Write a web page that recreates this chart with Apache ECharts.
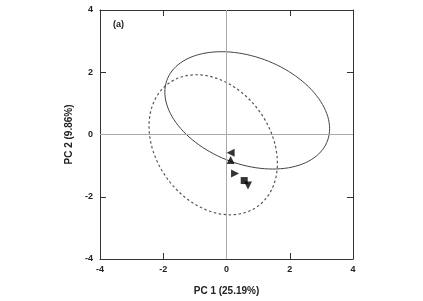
<!DOCTYPE html>
<html>
<head>
<meta charset="utf-8">
<script src="https://cdn.jsdelivr.net/npm/echarts@6/dist/echarts.min.js"></script>
<style>
  html, body { margin: 0; padding: 0; background: #fff; }
  #main { width: 423px; height: 301px; }
</style>
</head>
<body>
<div id="main"></div>
<script>
// axis ticks
const tickValues = [-4, -2, 0, 2, 4];

// sample scores (PC1, PC2), one point per group
const groupNames = ["g1", "g2", "g3", "g4", "g5"];
const groupX = [0.13, 0.13, 0.27, 0.56, 0.68];
const groupY = [-0.59, -0.82, -1.25, -1.48, -1.64];

// confidence ellipses: centre, half extents along x / y, covariance term
const ellipseNames = ["solid", "dashed"];
const ellipseCx = [0.655, -0.42];
const ellipseCy = [0.775, -0.33];
const ellipseHalfW = [2.605, 2.03];
const ellipseHalfH = [1.885, 2.25];
const ellipseCov = [-1.53, -1.21];

// marker look per group
const groupSymbol = ["triangle", "triangle", "triangle", "rect", "triangle"];
const groupRotate = [90, 0, -90, 0, 180];

const font = "Liberation Sans, Arial, sans-serif";
const axisColor = "#333";

var chart = echarts.init(document.getElementById("main"));

function ellipseItem(params, api) {
  var i = params.dataIndex;
  var cx = ellipseCx[i], cy = ellipseCy[i];
  var sx = ellipseHalfW[i];
  var sxx = sx * sx, syy = ellipseHalfH[i] * ellipseHalfH[i];
  var l21 = ellipseCov[i] / sx;
  var l22 = Math.sqrt(syy - l21 * l21);
  var pts = [];
  for (var k = 0; k <= 120; k++) {
    var t = (k / 120) * Math.PI * 2;
    var c = Math.cos(t), s = Math.sin(t);
    pts.push(api.coord([cx + sx * c, cy + l21 * c + l22 * s]));
  }
  var dashed = ellipseNames[i] === "dashed";
  return {
    type: "polyline",
    shape: { points: pts },
    style: {
      fill: "none",
      stroke: dashed ? "#555" : "#444",
      lineWidth: dashed ? 1.2 : 1,
      lineDash: dashed ? [2.5, 2.5] : null
    }
  };
}

var valueAxis = {
  type: "value",
  min: -4,
  max: 4,
  interval: 2,
  axisLine: { show: true, onZero: false, lineStyle: { color: axisColor, width: 1 } },
  axisTick: { show: true, inside: true, length: 6, lineStyle: { color: axisColor } },
  splitLine: { show: false }
};

var series = [
  {
    type: "custom",
    name: "ellipses",
    renderItem: ellipseItem,
    data: ellipseNames.map(function (n, i) { return [ellipseCx[i], ellipseCy[i]]; }),
    silent: true,
    z: 2
  },
  {
    type: "scatter",
    name: "zero",
    data: [],
    silent: true,
    markLine: {
      silent: true,
      symbol: "none",
      label: { show: false },
      lineStyle: { color: "#aaa", width: 1, type: "solid" },
      data: [{ xAxis: 0 }, { yAxis: 0 }]
    },
    z: 1
  }
];

groupNames.forEach(function (g, i) {
  series.push({
    type: "scatter",
    name: g,
    data: [[groupX[i], groupY[i]]],
    symbol: groupSymbol[i],
    symbolSize: groupSymbol[i] === "rect" ? 7 : 8,
    symbolRotate: groupRotate[i],
    itemStyle: { color: "#000" },
    z: 5
  });
});

var option = {
  animation: false,
  backgroundColor: "#fff",
  textStyle: { fontFamily: font },
  grid: { left: 100, right: 70, top: 10, bottom: 38 },
  xAxis: [
    Object.assign({}, valueAxis, {
      position: "bottom",
      name: "PC 1 (25.19%)",
      nameLocation: "middle",
      nameGap: 27,
      nameTextStyle: { fontFamily: font, fontSize: 10, fontWeight: "bold", color: "#222" },
      axisLabel: {
        show: true, margin: 6, fontFamily: font, fontSize: 9, fontWeight: "bold", color: "#222",
        formatter: function (v) { return tickValues.indexOf(v) >= 0 ? String(v) : ""; }
      }
    }),
    Object.assign({}, valueAxis, { position: "top", axisLabel: { show: false } })
  ],
  yAxis: [
    Object.assign({}, valueAxis, {
      position: "left",
      name: "PC 2 (9.86%)",
      nameLocation: "middle",
      nameGap: 24,
      nameTextStyle: { fontFamily: font, fontSize: 10, fontWeight: "bold", color: "#222" },
      axisLabel: {
        show: true, margin: 7, fontFamily: font, fontSize: 9, fontWeight: "bold", color: "#222",
        formatter: function (v) { return tickValues.indexOf(v) >= 0 ? String(v) : ""; }
      }
    }),
    Object.assign({}, valueAxis, { position: "right", axisLabel: { show: false } })
  ],
  graphic: [
    {
      type: "text",
      left: 113,
      top: 20,
      style: { text: "(a)", fontFamily: font, fontSize: 9, fontWeight: "bold", fill: "#222" }
    }
  ],
  series: series
};

chart.setOption(option);
</script>
</body>
</html>
